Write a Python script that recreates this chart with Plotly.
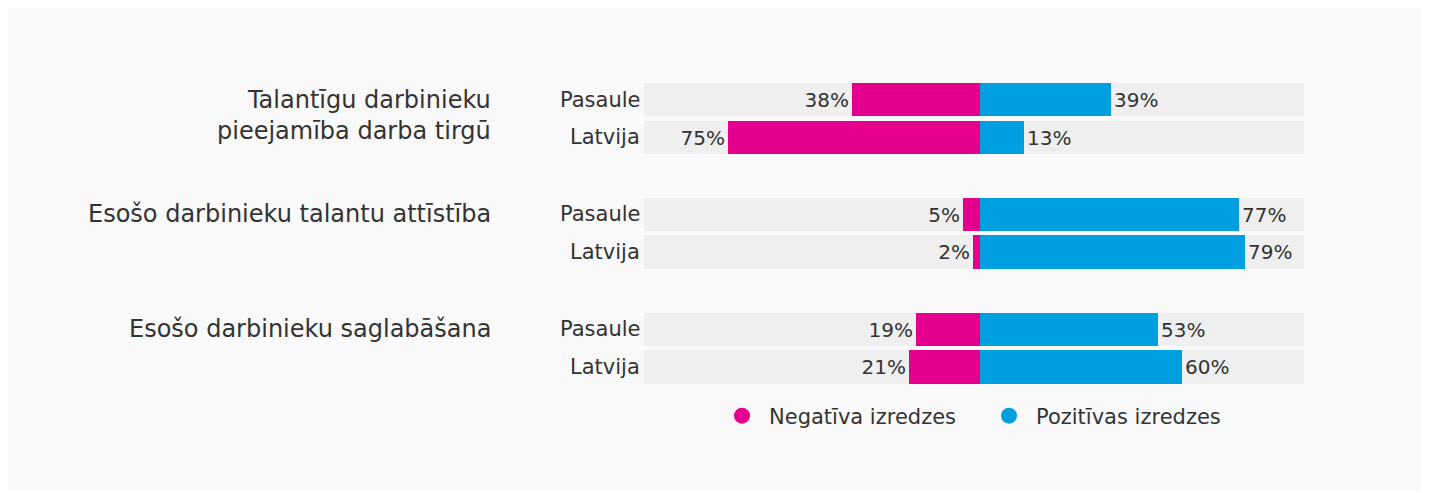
import plotly.graph_objects as go

# ---- data ----
groups = ["Talantīgu darbinieku<br>pieejamība darba tirgū",
          "Esošo darbinieku talantu attīstība",
          "Esošo darbinieku saglabāšana"]
rows = ["Pasaule", "Latvija"]
negative = [[38, 75], [5, 2], [19, 21]]   # Negatīva izredzes (%)
positive = [[39, 13], [77, 79], [53, 60]]  # Pozitīvas izredzes (%)
track_min, track_max = -100, 96.5
series_names = ["Negatīva izredzes", "Pozitīvas izredzes"]

# ---- styles ----
PINK = "#E4008C"
BLUE = "#009FDF"
TRACK = "#EFEFEF"
TXT = "#333333"
FONT = "DejaVu Sans"
FS_VAL = 20
FS_ROW = 21
FS_GRP = 24
FS_LEG = 21

GROUP_STEP = 3.04
W, H = 1421, 483
ZERO_PX, PX_PER = 972, 3.36
ROW0_PX, ROW_PX = 91.5, 37.8

ys, neg_v, pos_v, row_lbl = [], [], [], []
for g in range(len(groups)):
    for r in range(len(rows)):
        ys.append(g * GROUP_STEP + r)
        neg_v.append(negative[g][r])
        pos_v.append(positive[g][r])
        row_lbl.append(rows[r])

fig = go.Figure()

# background tracks
fig.add_trace(go.Bar(
    y=ys, x=[track_max - track_min] * len(ys), base=[track_min] * len(ys),
    orientation="h", marker=dict(color=TRACK, line=dict(width=0)),
    width=0.886, showlegend=False, hoverinfo="skip"))

# negative bars
fig.add_trace(go.Bar(
    y=ys, x=[-v for v in neg_v], orientation="h",
    marker=dict(color=PINK, line=dict(width=0)), width=0.886,
    text=[f"{v}%" for v in neg_v], textposition="outside",
    textfont=dict(family=FONT, size=FS_VAL, color=TXT),
    constraintext="none", cliponaxis=False, showlegend=False, name=series_names[0]))

# positive bars
fig.add_trace(go.Bar(
    y=ys, x=pos_v, orientation="h",
    marker=dict(color=BLUE, line=dict(width=0)), width=0.886,
    text=[f"{v}%" for v in pos_v], textposition="outside",
    textfont=dict(family=FONT, size=FS_VAL, color=TXT),
    constraintext="none", cliponaxis=False, showlegend=False, name=series_names[1]))

# legend entries
for name, col in zip(series_names, [PINK, BLUE]):
    fig.add_trace(go.Scatter(x=[None], y=[None], mode="markers", name=name,
                             marker=dict(color=col, size=17, symbol="circle")))

annotations = []
# row labels
for y, lbl in zip(ys, row_lbl):
    annotations.append(dict(x=track_min, y=y, xref="x", yref="y", text=lbl,
                            xanchor="right", yanchor="middle", xshift=-2,
                            showarrow=False,
                            font=dict(family=FONT, size=FS_ROW, color=TXT)))
# group labels
for g, lbl in enumerate(groups):
    annotations.append(dict(x=485 / W, y=g * GROUP_STEP, xref="paper", yref="y",
                            text=lbl, xanchor="right", yanchor="top", align="right",
                            yshift=16, showarrow=False,
                            font=dict(family=FONT, size=FS_GRP, color=TXT)))

xmin = -ZERO_PX / PX_PER
xmax = (W - ZERO_PX) / PX_PER
ymin = -ROW0_PX / ROW_PX
ymax = (H - ROW0_PX) / ROW_PX

fig.update_layout(
    width=W, height=H,
    margin=dict(l=0, r=0, t=0, b=0),
    paper_bgcolor="#F9F9F9", plot_bgcolor="rgba(0,0,0,0)",
    barmode="overlay", bargap=0,
    xaxis=dict(range=[xmin, xmax], visible=False, fixedrange=True),
    yaxis=dict(range=[ymax, ymin], visible=False, fixedrange=True),
    showlegend=True,
    legend=dict(orientation="h", x=707 / W, xanchor="left", y=1 - 408 / H,
                yanchor="middle", bgcolor="rgba(0,0,0,0)",
                font=dict(family=FONT, size=FS_LEG, color=TXT),
                itemsizing="trace", itemwidth=44, entrywidth=208),
    annotations=annotations,
    font=dict(family=FONT, color=TXT),
)

fig.write_html("out.html", config={"displayModeBar": False})
